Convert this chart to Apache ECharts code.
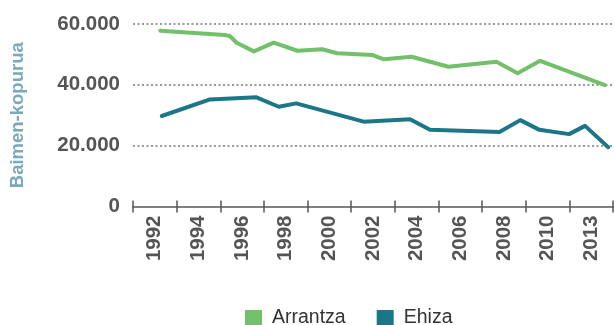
<!DOCTYPE html>
<html>
<head>
<meta charset="utf-8">
<script src="https://cdn.jsdelivr.net/npm/echarts@6/dist/echarts.min.js"></script>
<style>
  html, body { margin: 0; padding: 0; background: #fff; }
  #chart { width: 614px; height: 325px; }
</style>
</head>
<body>
<div id="chart"></div>
<script>
// Axis labels (each label sits in a two-year band)
var yearLabels = ['1992', '1994', '1996', '1998', '2000', '2002', '2004', '2006', '2008', '2010', '2013'];
var yTicks = [0, 20000, 40000, 60000];

// Arrantza (fishing licences): position in years and count
var arrantzaX = [1992.25, 1995.2, 1995.44, 1995.75, 1996.54, 1997.45, 1998.53, 1999.67, 2000.36, 2001.99, 2002.5, 2003.77, 2005.46, 2007.66, 2008.63, 2009.66, 2012.63];
var arrantzaY = [57800, 56400, 56050, 53850, 51000, 53850, 51200, 51700, 50400, 49800, 48400, 49250, 45950, 47600, 43800, 47900, 39900];

// Ehiza (hunting licences): position in years and count
var ehizaX = [1992.32, 1994.53, 1996.66, 1997.68, 1998.48, 2001.57, 2003.70, 2004.61, 2007.80, 2008.75, 2009.63, 2010.99, 2011.72, 2012.78];
var ehizaY = [29750, 35200, 35900, 32800, 33900, 27900, 28700, 25200, 24500, 28400, 25200, 23800, 26500, 19500];

var GREEN = '#73c06b';
var TEAL = '#1b7788';
var LABEL = '#555555';
var FONT = 'Liberation Sans, Arial, sans-serif';

function pairs(xs, ys) {
  return xs.map(function (x, i) { return [x, ys[i]]; });
}

function thousands(v) {
  return String(v).replace(/\B(?=(\d{3})+(?!\d))/g, '.');
}

var chart = echarts.init(document.getElementById('chart'), null, { renderer: 'canvas' });

chart.setOption({
  animation: false,
  backgroundColor: '#ffffff',
  grid: { left: 131, right: 1, top: 24, bottom: 118.5, containLabel: false },
  legend: {
    left: 245,
    top: 308,
    padding: 0,
    itemWidth: 17,
    itemHeight: 16,
    itemGap: 31,
    icon: 'rect',
    textStyle: { fontFamily: FONT, fontSize: 19.5, color: '#333333', lineHeight: 17, padding: [0, 0, 0, 5] },
    data: ['Arrantza', 'Ehiza']
  },
  xAxis: [
    {
      type: 'category',
      data: yearLabels,
      boundaryGap: true,
      position: 'bottom',
      axisLine: { show: true, lineStyle: { color: LABEL, width: 1.5 } },
      axisTick: { show: true, interval: 0, length: 6, inside: false, lineStyle: { color: LABEL, width: 1.5 } },
      axisLabel: {
        interval: 0,
        rotate: 90,
        margin: 9,
        fontFamily: FONT,
        fontWeight: 'bold',
        fontSize: 20.5,
        color: LABEL
      },
      splitLine: { show: false }
    },
    {
      type: 'category',
      data: yearLabels,
      boundaryGap: true,
      position: 'bottom',
      axisLine: { show: false },
      axisTick: { show: true, interval: 0, length: 6, inside: true, lineStyle: { color: LABEL, width: 1.5 } },
      axisLabel: { show: false },
      splitLine: { show: false }
    },
    {
      type: 'value',
      min: 1991,
      max: 2013,
      show: false
    }
  ],
  yAxis: {
    type: 'value',
    min: yTicks[0],
    max: yTicks[yTicks.length - 1],
    interval: 20000,
    name: 'Baimen-kopurua',
    nameLocation: 'middle',
    nameRotate: 90,
    nameGap: 106,
    nameTextStyle: {
      fontFamily: FONT,
      fontWeight: 'bold',
      fontSize: 18.5,
      color: '#7aa8bc'
    },
    axisLine: { show: false },
    axisTick: { show: false },
    axisLabel: {
      margin: 13,
      fontFamily: FONT,
      fontWeight: 'bold',
      fontSize: 20.5,
      color: LABEL,
      formatter: thousands
    },
    splitLine: {
      show: true,
      showMinLine: false,
      lineStyle: { color: '#9a9a9a', width: 2, type: [2, 2.5] }
    }
  },
  series: [
    {
      name: 'Arrantza',
      type: 'line',
      xAxisIndex: 2,
      data: pairs(arrantzaX, arrantzaY),
      showSymbol: false,
      symbol: 'none',
      color: GREEN,
      lineStyle: { color: GREEN, width: 4, join: 'round', cap: 'round' },
      z: 3
    },
    {
      name: 'Ehiza',
      type: 'line',
      xAxisIndex: 2,
      data: pairs(ehizaX, ehizaY),
      showSymbol: false,
      symbol: 'none',
      color: TEAL,
      lineStyle: { color: TEAL, width: 4, join: 'round', cap: 'round' },
      z: 3
    }
  ]
});
</script>
</body>
</html>
